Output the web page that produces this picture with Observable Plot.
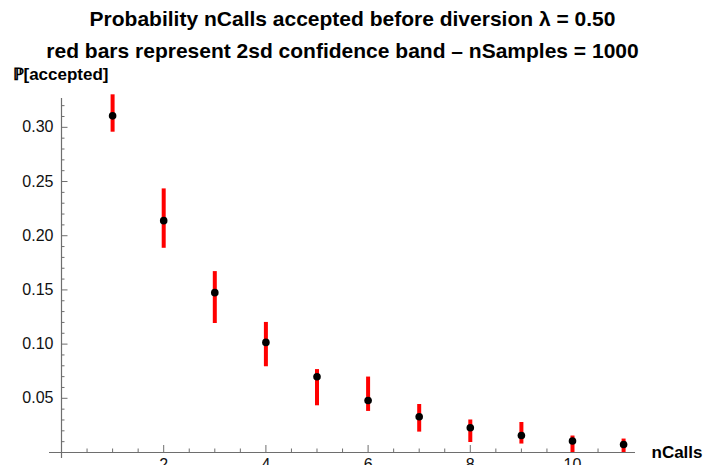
<!DOCTYPE html>
<html>
<head>
<meta charset="utf-8">
<script src="https://cdn.jsdelivr.net/npm/d3@7"></script>
<script src="https://cdn.jsdelivr.net/npm/@observablehq/plot@0.6"></script>
<style>
  html, body { margin: 0; padding: 0; background: #fff; overflow: hidden; }
  #chart svg { overflow: visible; }
</style>
</head>
<body>
<div id="chart"></div>
<script>
// Acceptance probability per number of calls, with the 2sd confidence band
const nCalls = [1, 2, 3, 4, 5, 6, 7, 8, 9, 10, 11];
const pAccepted = [0.3106, 0.2139, 0.1475, 0.1016, 0.0699, 0.0480, 0.0330, 0.0228, 0.0157, 0.0106, 0.0074];
const bandLow = [0.2955, 0.1884, 0.1190, 0.0791, 0.0431, 0.0379, 0.0188, 0.0092, 0.0078, 0.0000, 0.0000];
const bandHigh = [0.3300, 0.2432, 0.1669, 0.1200, 0.0765, 0.0696, 0.0443, 0.0300, 0.0277, 0.0152, 0.0124];

// Axis ticks
const xMajor = [2, 4, 6, 8, 10];
const xMinor = d3.range(0, 11.01, 0.5).filter(v => !xMajor.includes(v));
const yMajor = [0.05, 0.10, 0.15, 0.20, 0.25, 0.30];
const yMinor = d3.range(1, 33).map(i => i / 100).filter(v => !yMajor.some(m => Math.abs(m - v) < 1e-9));

const titleLine1 = "Probability nCalls accepted before diversion \u03bb = 0.50";
const titleLine2 = "red bars represent 2sd confidence band \u2013 nSamples = 1000";
const yLabel = "\u2119[accepted]";
const xLabel = "nCalls";

const rows = nCalls.map((n, i) => ({n, p: pAccepted[i], lo: bandLow[i], hi: bandHigh[i]}));

const axisColor = "#6e6e6e";
const font = "Liberation Sans, Arial, sans-serif";

const chart = Plot.plot({
  width: 704,
  height: 465,
  marginLeft: 61,
  marginRight: 69,
  marginTop: 98,
  marginBottom: 13,
  style: {fontFamily: font, background: "#fff", color: "#000"},
  x: {domain: [0, 11.233]},
  y: {domain: [0, 0.3266]},
  marks: [
    // axis lines, crossing a little past the origin
    Plot.ruleY([0], {stroke: axisColor, strokeWidth: 1.2, insetLeft: -12}),
    Plot.ruleX([0], {stroke: axisColor, strokeWidth: 1.2, insetBottom: -6}),
    // inward ticks
    Plot.axisY(yMinor, {anchor: "left", tickSize: -3.5, tickFormat: () => "", label: null, stroke: axisColor}),
    Plot.axisY(yMajor, {anchor: "left", tickSize: -6.5, tickFormat: () => "", label: null, stroke: axisColor}),
    Plot.axisX(xMinor, {anchor: "bottom", tickSize: -3.5, tickFormat: () => "", label: null, stroke: axisColor}),
    Plot.axisX(xMajor, {anchor: "bottom", tickSize: -7, tickFormat: () => "", label: null, stroke: axisColor}),
    // tick labels
    Plot.text(yMajor, {y: d => d, frameAnchor: "left", textAnchor: "end", dx: -8, text: d => d3.format(".2f")(d), fontSize: 16, fill: "#111"}),
    Plot.text(xMajor, {x: d => d, frameAnchor: "bottom", lineAnchor: "top", dy: 6, text: d => String(d), fontSize: 16, fill: "#111"}),
    // confidence bands and estimates
    Plot.ruleX(rows, {x: "n", y1: "lo", y2: "hi", stroke: "#ff0000", strokeWidth: 4}),
    Plot.dot(rows, {x: "n", y: "p", r: 3.8, fill: "#000", stroke: null}),
    // titles and axis labels
    Plot.text([titleLine1], {frameAnchor: "top", text: d => d, dx: 4, dy: -73, lineAnchor: "bottom", fontSize: 21, fontWeight: "bold", fill: "#000"}),
    Plot.text([titleLine2], {frameAnchor: "top", text: d => d, dx: -6, dy: -41, lineAnchor: "bottom", fontSize: 21, fontWeight: "bold", fill: "#000"}),
    Plot.text([yLabel], {frameAnchor: "top-left", text: d => d, dx: -49, dy: -19, textAnchor: "start", lineAnchor: "bottom", fontSize: 17, fontWeight: "bold", fill: "#000"}),
    Plot.text([xLabel], {frameAnchor: "bottom-right", text: d => d, dx: 16, dy: 0, textAnchor: "start", lineAnchor: "middle", fontSize: 17, fontWeight: "bold", fill: "#000"})
  ]
});

document.getElementById("chart").appendChild(chart);
</script>
</body>
</html>
